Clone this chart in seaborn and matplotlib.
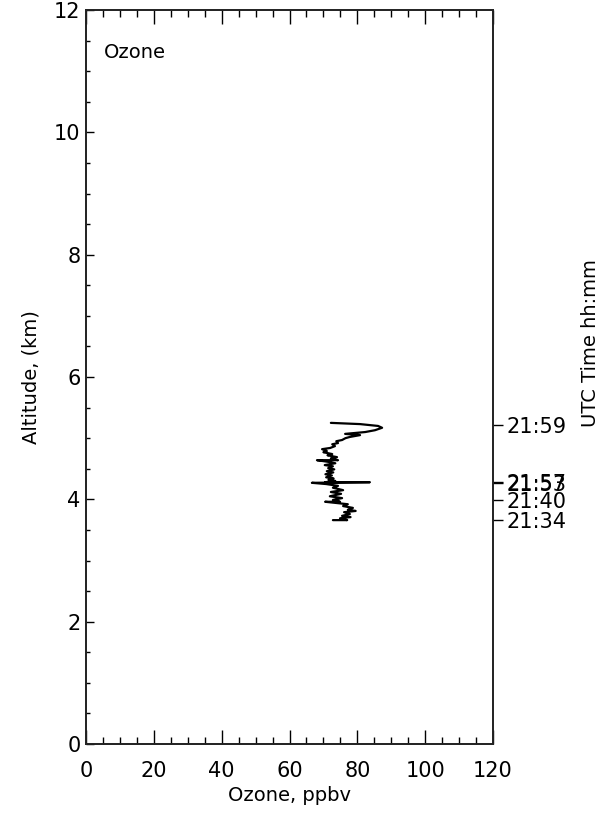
import matplotlib
matplotlib.use("Agg")
import matplotlib.pyplot as plt
import seaborn as sns
import pandas as pd
from matplotlib.ticker import MultipleLocator

# ---- data ----
altitude_km = [3.66, 3.66, 3.69, 3.71, 3.73, 3.76, 3.79, 3.81, 3.83, 3.86,
               3.89, 3.92, 3.96, 3.96, 3.99, 4.02, 4.05, 4.09, 4.12, 4.15,
               4.19, 4.22, 4.25, 4.27, 4.28, 4.28, 4.30, 4.32, 4.34, 4.36,
               4.39, 4.41, 4.44, 4.46, 4.49, 4.51, 4.54, 4.56, 4.59, 4.61,
               4.64, 4.64, 4.67, 4.69, 4.72, 4.74, 4.77, 4.79, 4.82, 4.84,
               4.87, 4.90, 4.92, 4.95, 4.97, 5.00, 5.02, 5.05, 5.07, 5.10,
               5.13, 5.17, 5.20, 5.23, 5.25]
ozone_ppbv = [72.8, 77.0, 74.9, 78.0, 75.5, 77.8, 76.1, 79.5, 77.2, 78.7,
              75.8, 77.2, 70.5, 74.9, 72.8, 75.5, 71.9, 75.2, 72.2, 75.8,
              72.8, 74.3, 70.8, 66.6, 83.7, 70.5, 73.5, 71.5, 73.0, 70.8,
              72.5, 70.6, 72.9, 71.0, 73.2, 71.4, 72.8, 70.4, 73.5, 71.8,
              68.1, 74.3, 72.2, 74.0, 71.2, 72.6, 70.0, 71.0, 69.6, 72.0,
              73.4, 72.6, 74.3, 73.8, 75.5, 76.5, 77.8, 80.8, 76.4, 82.3,
              85.2, 87.3, 86.1, 80.8, 72.2]

time_tick_alt = [3.66, 3.99, 4.27, 4.29, 5.22]
time_tick_labels = ["21:34", "21:40", "21:53", "21:57", "21:59"]

x_ticks = [0, 20, 40, 60, 80, 100, 120]
y_ticks = [0, 2, 4, 6, 8, 10, 12]

df = pd.DataFrame({"ozone": ozone_ppbv, "alt": altitude_km})

sns.set_style("ticks")
plt.rcParams["font.family"] = ["DejaVu Sans"]
plt.rcParams["axes.linewidth"] = 1.2
plt.rcParams["text.color"] = "black"
plt.rcParams["axes.labelcolor"] = "black"
plt.rcParams["xtick.color"] = "black"
plt.rcParams["ytick.color"] = "black"

fig = plt.figure(figsize=(6.10, 8.16), dpi=100)
ax = fig.add_axes([86/610, 1-744/816, (493-86)/610, (744-10)/816])

sns.lineplot(data=df, x="ozone", y="alt", sort=False, estimator=None,
             color="black", linewidth=1.6, ax=ax)

ax.set_xlim(0, 120)
ax.set_ylim(0, 12)
ax.set_xticks(x_ticks)
ax.set_yticks(y_ticks)
ax.xaxis.set_minor_locator(MultipleLocator(5))
ax.yaxis.set_minor_locator(MultipleLocator(0.5))
ax.tick_params(axis="x", which="major", direction="in", length=10, width=1,
               top=True, bottom=True, labelsize=15, pad=12)
ax.tick_params(axis="x", which="minor", direction="in", length=5, width=1,
               top=True, bottom=True)
ax.tick_params(axis="y", which="major", direction="in", length=6, width=1,
               left=True, right=False, labelsize=15, pad=4)
ax.tick_params(axis="y", which="minor", direction="in", length=3, width=1,
               left=True, right=False)
ax.set_xlabel("Ozone, ppbv", fontsize=14, labelpad=4, color="black")
ax.set_ylabel("Altitude, (km)", fontsize=14, labelpad=10, color="black")
for s in ax.spines.values():
    s.set_visible(True)
    s.set_color("black")

ax.text(0.045, 0.955, "Ozone", transform=ax.transAxes, fontsize=14,
        ha="left", va="top", color="black")

ax2 = ax.twinx()
ax2.set_ylim(ax.get_ylim())
ax2.set_yticks(time_tick_alt)
ax2.set_yticklabels(time_tick_labels)
ax2.tick_params(axis="y", direction="out", length=7, width=1, labelsize=15,
                pad=3, colors="black")
ax2.set_ylabel("")
fig.text(590/610, 1-343/816, "UTC Time hh:mm", rotation=90, fontsize=14,
         ha="center", va="center", color="black")

fig.savefig("out.png", dpi=100)
